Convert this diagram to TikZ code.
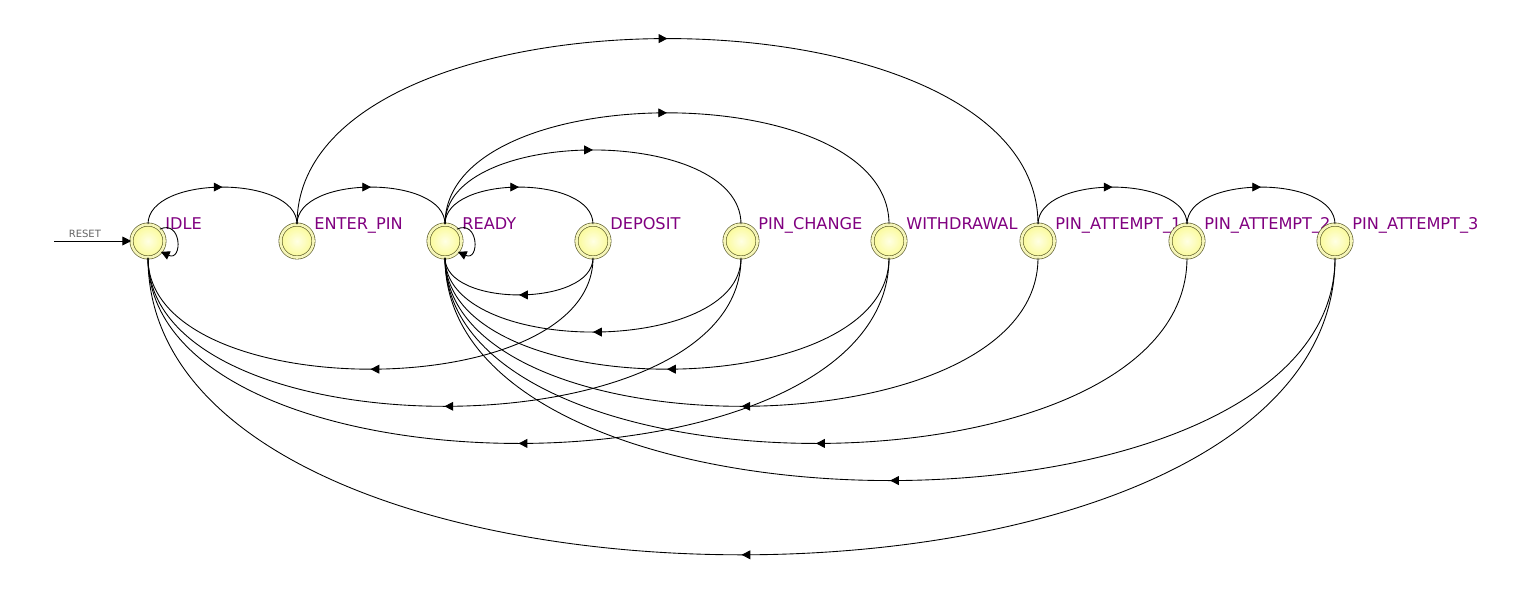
\documentclass[tikz,border=0pt]{standalone}
\usepackage{fontspec}
\setmainfont{DejaVu Sans}
\usetikzlibrary{arrows.meta,decorations.markings}
\definecolor{stateline}{RGB}{80,80,30}
\definecolor{stategap}{RGB}{245,245,185}
\definecolor{statename}{RGB}{128,0,128}
\definecolor{resetgray}{RGB}{100,100,100}
\definecolor{stateouter}{RGB}{250,250,150}
\definecolor{stateinner}{RGB}{255,255,228}
\tikzstyle{state}=[circle,minimum size=0.66cm,inner sep=0pt,draw=stateline,line width=0.35pt,double=stategap,double distance=1.5pt,shade,inner color=stateinner,outer color=stateouter]
\tikzstyle{state text}=[text=statename,font=\fontsize{9.2}{11}\selectfont,inner sep=0pt,anchor=base west]
\tikzstyle{reset text}=[text=resetgray,font=\fontsize{5.7}{7}\selectfont,inner sep=1.5pt]
\tikzstyle{trans}=[draw,line width=0.5pt]
\tikzstyle{tip}=[-{Triangle[length=5pt,width=5pt]}]
\tikzstyle{mid arrow}=[postaction={decorate,decoration={markings,mark=at position 0.5 with {\arrow{Triangle[length=5pt,width=5pt]}}}}]

\begin{document}
\begin{tikzpicture}[x=0.02cm,y=0.02cm]
   \useasboundingbox (0,-352) rectangle (1530,241);
   \foreach \pos/\name/\tag in {148/idle/IDLE, 297/enterpin/ENTER\_PIN, 445/ready/READY,
        593/deposit/DEPOSIT, 741/pinchange/PIN\_CHANGE, 889/withdrawal/WITHDRAWAL,
        1038/pina1/PIN\_ATTEMPT\_1, 1187/pina2/PIN\_ATTEMPT\_2, 1335/pina3/PIN\_ATTEMPT\_3}
   {
        \node[state] (\name) at (\pos,0) {};
        \node[state text] (\name-tag) at (\pos+17,12) {\tag};
   }
    % upper arcs
    \foreach \source/\dest/\k in {idle/enterpin/1, enterpin/ready/1, ready/deposit/1,
        ready/pinchange/2, ready/withdrawal/3, enterpin/pina1/5, pina1/pina2/1, pina2/pina3/1}
        \path[trans,mid arrow] (\source.north) .. controls +(0,{49.5*\k}) and +(0,{49.5*\k}) .. (\dest.north);
    % lower arcs
    \foreach \source/\dest/\k in {deposit/ready/1, pinchange/ready/2, withdrawal/ready/3,
        deposit/idle/3, pinchange/idle/4, withdrawal/idle/5, pina1/ready/4, pina2/ready/5,
        pina3/ready/6, pina3/idle/8}
        \path[trans,mid arrow] (\source.south) .. controls +(0,{-49.5*\k}) and +(0,{-49.5*\k}) .. (\dest.south);
    % self loops
    \foreach \name in {idle,ready}
        \path[trans,tip] (\name.45) .. controls +(22,10) and +(22,-10) .. (\name.-40);
    \coordinate (reset) at (54,0);
    \path[trans,tip] (reset) -- node[reset text,above,pos=0.4] {RESET} (idle.west);
\end{tikzpicture}
\end{document}
